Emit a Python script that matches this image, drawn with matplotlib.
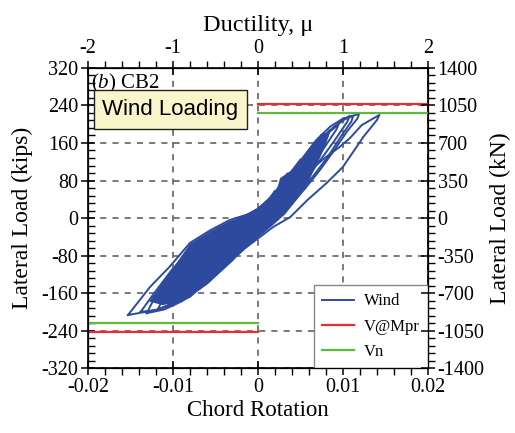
import numpy as np
import matplotlib
matplotlib.use('Agg')
import matplotlib.pyplot as plt
from matplotlib.ticker import MultipleLocator

plt.rcParams['font.family'] = ['Liberation Serif', 'DejaVu Serif']
plt.rcParams['axes.unicode_minus'] = False
plt.rcParams['mathtext.fontset'] = 'custom'
plt.rcParams['mathtext.rm'] = 'Liberation Serif'
plt.rcParams['mathtext.it'] = 'Liberation Serif:italic'

# Hysteresis loops: (chord rotation, lateral load in kips)
loop_a_rot = [-0.0153, -0.0127, -0.0104, -0.008, -0.0056, -0.0033, -0.0006, 0.002, 0.004, 0.006, 0.008, 0.0095, 0.0108, 0.0122, 0.0143,
              0.014, 0.0124, 0.01, 0.0081, 0.0058, 0.0038, 0.0018, 0.0002, -0.0018, -0.0045, -0.008, -0.0095, -0.012, -0.0153]
loop_a_load = [-207, -147, -104, -53, -26, -4, 11, 40, 70, 100, 130, 150, 170, 198, 220,
               209, 173, 109, 75, 38, 2, -19, -41, -68, -111, -168, -181, -196, -207]
loop_b_rot = [-0.0131, -0.012, -0.0098, -0.0075, -0.005, -0.002, 0.0005, 0.0025, 0.0045, 0.0068, 0.0085, 0.01, 0.0119,
              0.0117, 0.0105, 0.0088, 0.0072, 0.0055, 0.0035, 0.0015, -0.0005, -0.003, -0.006, -0.009, -0.011, -0.0131]
loop_b_load = [-203, -165, -110, -60, -28, 0, 25, 65, 110, 165, 195, 212, 222,
               212, 185, 140, 100, 62, 20, -10, -40, -90, -140, -178, -195, -203]
loop_c_rot = [-0.0118, -0.0108, -0.009, -0.007, -0.0045, -0.0015, 0.001, 0.003, 0.005, 0.007, 0.009, 0.0108,
              0.0105, 0.009, 0.0072, 0.0055, 0.0035, 0.0015, -0.0005, -0.003, -0.006, -0.0085, -0.0105, -0.0118]
loop_c_load = [-195, -160, -110, -65, -30, 0, 30, 70, 115, 160, 195, 218,
               205, 165, 120, 80, 35, 0, -30, -80, -130, -165, -185, -195]
loop_d_rot = [-0.0105, -0.0095, -0.0078, -0.006, -0.0038, -0.001, 0.0015, 0.0035, 0.0055, 0.0075, 0.0095,
              0.0092, 0.0078, 0.006, 0.004, 0.002, 0.0, -0.0025, -0.005, -0.0075, -0.0092, -0.0105]
loop_d_load = [-185, -150, -100, -60, -25, 5, 40, 80, 125, 170, 200,
               188, 150, 105, 55, 15, -20, -65, -110, -150, -172, -185]
loop_e_rot = [-0.0095, -0.0085, -0.007, -0.005, -0.003, -0.0005, 0.002, 0.004, 0.006, 0.0085,
              0.0082, 0.0068, 0.005, 0.003, 0.001, -0.001, -0.0035, -0.006, -0.008, -0.0095]
loop_e_load = [-178, -145, -100, -55, -20, 10, 50, 95, 140, 188,
               175, 135, 90, 45, 5, -28, -75, -120, -158, -178]
loop_f_rot = [-0.0085, -0.0075, -0.006, -0.004, -0.002, 0.0005, 0.0025, 0.0045, 0.006, 0.0075,
              0.0072, 0.0058, 0.004, 0.002, 0.0, -0.002, -0.0045, -0.0068, -0.0085]
loop_f_load = [-165, -130, -85, -45, -12, 20, 60, 105, 145, 178,
               165, 125, 80, 35, -5, -40, -85, -130, -165]
loop_g_rot = [-0.0075, -0.0065, -0.005, -0.003, -0.001, 0.001, 0.003, 0.0045, 0.0065,
              0.006, 0.0045, 0.003, 0.001, -0.001, -0.0035, -0.0058, -0.0075]
loop_g_load = [-150, -118, -75, -35, -5, 25, 70, 110, 155,
               138, 95, 55, 12, -25, -70, -115, -150]
loop_h_rot = [-0.006, -0.005, -0.0035, -0.0015, 0.0005, 0.002, 0.0035, 0.005,
              0.0046, 0.0032, 0.0015, -0.0005, -0.0025, -0.0045, -0.006]
loop_h_load = [-125, -92, -55, -18, 15, 48, 88, 125,
               108, 65, 22, -18, -55, -95, -125]
loop_i_rot = [-0.0045, -0.0035, -0.002, -0.0005, 0.001, 0.0022, 0.0035,
              0.003, 0.0015, 0.0, -0.0015, -0.003, -0.0045]
loop_i_load = [-95, -62, -30, 0, 30, 60, 95,
               78, 35, -5, -35, -65, -95]
loop_j_rot = [-0.003, -0.002, -0.001, 0.0, 0.001, 0.002,
              0.0017, 0.0007, -0.0005, -0.0018, -0.003]
loop_j_load = [-62, -35, -12, 10, 32, 58,
               42, 12, -15, -38, -62]
loop_k_rot = [-0.0138, -0.0122, -0.0102, -0.0078, -0.0052, -0.0022, 0.0004, 0.0026, 0.0048, 0.007, 0.0088, 0.0101, 0.0112,
              0.011, 0.0098, 0.0082, 0.0066, 0.0048, 0.0028, 0.0008, -0.0012, -0.0038, -0.0068, -0.0098, -0.0118, -0.0138]
loop_k_load = [-200, -160, -112, -64, -30, -2, 22, 62, 108, 160, 192, 210, 218,
               206, 175, 130, 92, 52, 12, -18, -50, -100, -150, -182, -196, -200]

# outline of the dense (solid) core of the many small cycles
core_rot = [-0.0128, -0.0107, -0.008, -0.0056, -0.0033, -0.0006, 0.0002, 0.0022, 0.0026, 0.0038, 0.0049, 0.0069, 0.0078,
            0.0084, 0.0078, 0.007, 0.006, 0.0047, 0.0032, 0.0016, 0.0, -0.002, -0.0045, -0.0065, -0.008, -0.0095, -0.0112]
core_load = [-178, -125, -55, -28, -6, 9, 26, 58, 85, 100, 122, 168, 182,
             178, 148, 116, 80, 42, 8, -18, -42, -75, -115, -145, -165, -178, -186]

v_mpr = 244   # kips
v_n = 223     # kips

loops = [(loop_a_rot, loop_a_load), (loop_b_rot, loop_b_load), (loop_k_rot, loop_k_load),
         (loop_c_rot, loop_c_load), (loop_d_rot, loop_d_load), (loop_e_rot, loop_e_load),
         (loop_f_rot, loop_f_load), (loop_g_rot, loop_g_load), (loop_h_rot, loop_h_load),
         (loop_i_rot, loop_i_load), (loop_j_rot, loop_j_load)]

blue = '#2d4a9e'
red = '#ee2a2a'
green = '#5dbb3c'

fig = plt.figure(figsize=(5.15, 4.33), dpi=100)
ax = fig.add_axes([0.1709, 0.150, 0.660, 0.693])

ax.fill(core_rot, core_load, color=blue, lw=0, zorder=2)
for i, (r, p) in enumerate(loops):
    ax.plot(r, p, color=blue, lw=1.4, zorder=3, label='Wind' if i == 0 else None)

ax.plot([0, 0.02], [v_mpr, v_mpr], color=red, lw=1.6, zorder=4, label='V@Mpr')
ax.plot([-0.02, 0], [-v_mpr, -v_mpr], color=red, lw=1.6, zorder=4)
ax.plot([0, 0.02], [v_n, v_n], color=green, lw=1.6, zorder=4, label='Vn')
ax.plot([-0.02, 0], [-v_n, -v_n], color=green, lw=1.6, zorder=4)

ax.set_xlim(-0.02, 0.02)
ax.set_ylim(-320, 320)
ax.xaxis.set_major_locator(MultipleLocator(0.01))
ax.xaxis.set_minor_locator(MultipleLocator(0.002))
ax.yaxis.set_major_locator(MultipleLocator(80))
ax.yaxis.set_minor_locator(MultipleLocator(16))
ax.xaxis.set_major_formatter(plt.FuncFormatter(lambda v, p: '0' if abs(v) < 1e-9 else f'{v:g}'))
ax.grid(True, which='major', color='#555555', linestyle=(0, (4, 4)), lw=1.1, zorder=1)
ax.tick_params(which='major', direction='inout', length=10, width=1.1, labelsize=14.5, pad=2)
ax.tick_params(axis='y', which='minor', direction='in', length=5, width=1.0)
ax.tick_params(axis='x', which='minor', direction='out', length=5, width=1.0)
ax.set_xlabel('Chord Rotation', fontsize=16.5, labelpad=2)
ax.set_ylabel('Lateral Load (kips)', fontsize=17, labelpad=6)
for s in ax.spines.values():
    s.set_linewidth(1.2)

ax2 = ax.twinx()
ax2.set_ylim(-1400, 1400)
ax2.yaxis.set_major_locator(MultipleLocator(350))
ax2.yaxis.set_minor_locator(MultipleLocator(70))
ax2.tick_params(which='major', direction='inout', length=10, width=1.1, labelsize=14.5, pad=2)
ax2.tick_params(which='minor', direction='out', length=5, width=1.0)
ax2.set_ylabel('Lateral Load (kN)', fontsize=17, labelpad=4)

ax3 = ax.twiny()
ax3.set_xlim(-2, 2)
ax3.xaxis.set_major_locator(MultipleLocator(1))
ax3.xaxis.set_minor_locator(MultipleLocator(0.2))
ax3.tick_params(which='major', direction='inout', length=10, width=1.1, labelsize=14.5, pad=2)
ax3.tick_params(which='minor', direction='out', length=5, width=1.0)
ax3.set_xlabel('Ductility, \u03bc', fontsize=17.5, labelpad=6)

ax.text(0.01, 0.988, '($\\it{b}$) CB2', transform=ax.transAxes, fontsize=15, va='top', ha='left', zorder=6)
ax.text(-0.0183, 231, 'Wind Loading', fontsize=16, family='Liberation Sans', va='center', ha='left', zorder=6,
        bbox=dict(boxstyle='square,pad=0.4', fc='#fbf5cc', ec='#222222', lw=1.0))

leg = ax.legend(loc='lower right', fontsize=12, frameon=True, fancybox=False, framealpha=1,
                edgecolor='#888888', borderaxespad=0.0, handlelength=1.9, handletextpad=0.6,
                borderpad=0.5, labelspacing=0.55)
leg.get_frame().set_linewidth(1.0)
leg.set_zorder(10)

fig.savefig('out.png', dpi=100)
